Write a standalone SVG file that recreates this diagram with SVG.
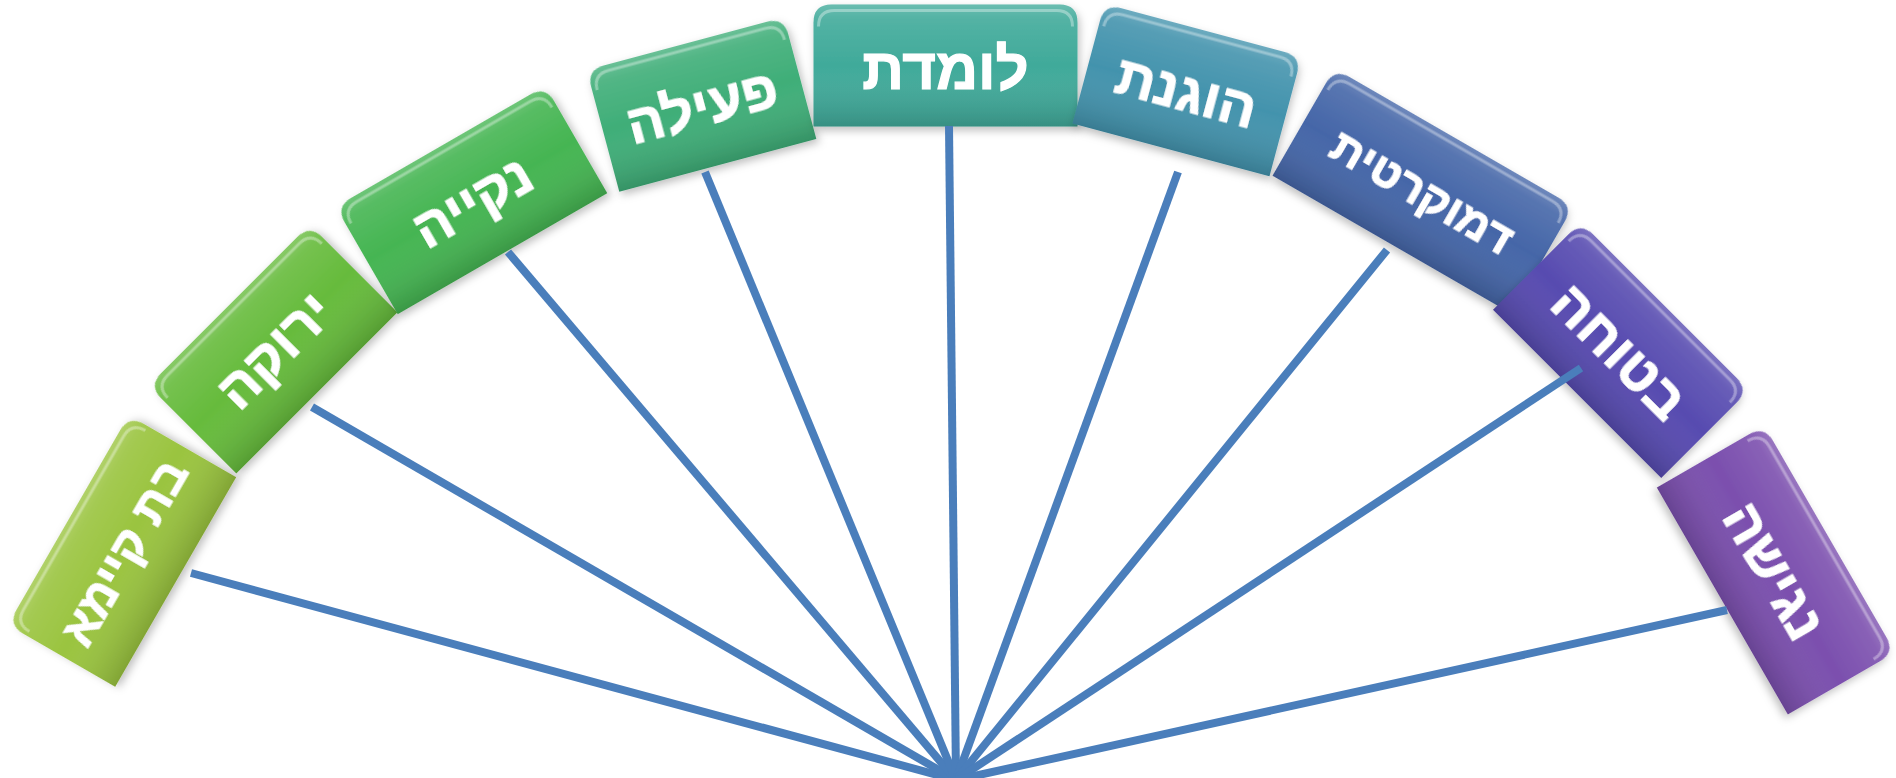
<svg xmlns="http://www.w3.org/2000/svg" width="1896" height="778" viewBox="0 0 1896 778">
<defs>
<linearGradient id="shade" x1="0" y1="0" x2="0" y2="1">
<stop offset="0" stop-color="#ffffff" stop-opacity="0.22"/>
<stop offset="0.12" stop-color="#ffffff" stop-opacity="0.10"/>
<stop offset="0.5" stop-color="#ffffff" stop-opacity="0"/>
<stop offset="1" stop-color="#000000" stop-opacity="0.16"/>
</linearGradient>
<filter id="sh" x="-20%" y="-20%" width="140%" height="140%">
<feDropShadow dx="2" dy="4" stdDeviation="4" flood-color="#000" flood-opacity="0.25"/>
</filter>
</defs>
<style>
.ov{fill:url(#shade)}
.hl{fill:none;stroke:#ffffff;stroke-opacity:0.35;stroke-width:3}
.t{font-family:"Liberation Sans","DejaVu Sans",Arial,sans-serif;font-weight:bold;fill:#ffffff;stroke:#ffffff;stroke-width:1.2;text-anchor:middle}
.ln{stroke:#4a7ebb;stroke-width:8;fill:none;stroke-linecap:butt}
</style>

<g id="node1" transform="translate(122,551) rotate(-60)" filter="url(#sh)">
<path fill="#9ac43f" d="M-121,62 L-121,-44 Q-121,-62 -103,-62 L103,-62 Q121,-62 121,-44 L121,62 Z"/>
<path class="ov" d="M-121,62 L-121,-44 Q-121,-62 -103,-62 L103,-62 Q121,-62 121,-44 L121,62 Z"/>
<path class="hl" d="M-116,-40 Q-116,-56 -100,-56 L100,-56 Q116,-56 116,-40"/>
<text class="t" x="0" y="19" font-size="48">בת קיימא</text>
</g>

<g id="node2" transform="translate(273,349) rotate(-45)" filter="url(#sh)">
<path fill="#66bb3c" d="M-114,62 L-114,-44 Q-114,-62 -96,-62 L96,-62 Q114,-62 114,-44 L114,62 Z"/>
<path class="ov" d="M-114,62 L-114,-44 Q-114,-62 -96,-62 L96,-62 Q114,-62 114,-44 L114,62 Z"/>
<path class="hl" d="M-109,-40 Q-109,-56 -93,-56 L93,-56 Q109,-56 109,-40"/>
<text class="t" x="0" y="21" font-size="55">ירוקה</text>
</g>

<g id="node3" transform="translate(471.5,200) rotate(-30)" filter="url(#sh)">
<path fill="#45b552" d="M-121,62 L-121,-44 Q-121,-62 -103,-62 L103,-62 Q121,-62 121,-44 L121,62 Z"/>
<path class="ov" d="M-121,62 L-121,-44 Q-121,-62 -103,-62 L103,-62 Q121,-62 121,-44 L121,62 Z"/>
<path class="hl" d="M-116,-40 Q-116,-56 -100,-56 L100,-56 Q116,-56 116,-40"/>
<text class="t" x="0" y="21" font-size="55">נקייה</text>
</g>

<g id="node4" transform="translate(701.5,104.5) rotate(-15)" filter="url(#sh)">
<path fill="#3fae78" d="M-102,63 L-102,-45 Q-102,-63 -84,-63 L84,-63 Q102,-63 102,-45 L102,63 Z"/>
<path class="ov" d="M-102,63 L-102,-45 Q-102,-63 -84,-63 L84,-63 Q102,-63 102,-45 L102,63 Z"/>
<path class="hl" d="M-97,-41 Q-97,-57 -81,-57 L81,-57 Q97,-57 97,-41"/>
<text class="t" x="0" y="21" font-size="55">פעילה</text>
</g>

<g id="node5" transform="translate(945.5,65.5)" filter="url(#sh)">
<path fill="#40aa9a" d="M-132,61 L-132,-43 Q-132,-61 -114,-61 L114,-61 Q132,-61 132,-43 L132,61 Z"/>
<path class="ov" d="M-132,61 L-132,-43 Q-132,-61 -114,-61 L114,-61 Q132,-61 132,-43 L132,61 Z"/>
<path class="hl" d="M-127,-39 Q-127,-55 -111,-55 L111,-55 Q127,-55 127,-39"/>
<text class="t" x="0" y="23" font-size="58">לומדת</text>
</g>

<g id="node6" transform="translate(1187,90) rotate(15)" filter="url(#sh)">
<path fill="#4393ad" d="M-102,62 L-102,-44 Q-102,-62 -84,-62 L84,-62 Q102,-62 102,-44 L102,62 Z"/>
<path class="ov" d="M-102,62 L-102,-44 Q-102,-62 -84,-62 L84,-62 Q102,-62 102,-44 L102,62 Z"/>
<path class="hl" d="M-97,-40 Q-97,-56 -81,-56 L81,-56 Q97,-56 97,-40"/>
<text class="t" x="0" y="21" font-size="55">הוגנת</text>
</g>

<g id="node7" transform="translate(1423,191) rotate(30)" filter="url(#sh)">
<path fill="#4566a8" d="M-138,62 L-138,-44 Q-138,-62 -120,-62 L120,-62 Q138,-62 138,-44 L138,62 Z"/>
<path class="ov" d="M-138,62 L-138,-44 Q-138,-62 -120,-62 L120,-62 Q138,-62 138,-44 L138,62 Z"/>
<path class="hl" d="M-133,-40 Q-133,-56 -117,-56 L117,-56 Q133,-56 133,-40"/>
<text class="t" x="0" y="17" font-size="45">דמוקרטית</text>
</g>

<g id="node8" transform="translate(1621,350) rotate(45)" filter="url(#sh)">
<path fill="#574bb0" d="M-119,62 L-119,-44 Q-119,-62 -101,-62 L101,-62 Q119,-62 119,-44 L119,62 Z"/>
<path class="ov" d="M-119,62 L-119,-44 Q-119,-62 -101,-62 L101,-62 Q119,-62 119,-44 L119,62 Z"/>
<path class="hl" d="M-114,-40 Q-114,-56 -98,-56 L98,-56 Q114,-56 114,-40"/>
<text class="t" x="0" y="21" font-size="55">בטוחה</text>
</g>

<g id="node9" transform="translate(1776,570) rotate(60)" filter="url(#sh)">
<path fill="#7b4fae" d="M-131,62 L-131,-44 Q-131,-62 -113,-62 L113,-62 Q131,-62 131,-44 L131,62 Z"/>
<path class="ov" d="M-131,62 L-131,-44 Q-131,-62 -113,-62 L113,-62 Q131,-62 131,-44 L131,62 Z"/>
<path class="hl" d="M-126,-40 Q-126,-56 -110,-56 L110,-56 Q126,-56 126,-40"/>
<text class="t" x="0" y="21" font-size="55">נגישה</text>
</g>

<g id="connectors">
<line class="ln" x1="191" y1="573" x2="956" y2="780"/>
<line class="ln" x1="312" y1="407" x2="956" y2="780"/>
<line class="ln" x1="508" y1="252" x2="956" y2="780"/>
<line class="ln" x1="705" y1="172" x2="956" y2="780"/>
<line class="ln" x1="949" y1="126" x2="956" y2="780"/>
<line class="ln" x1="1178" y1="172" x2="956" y2="780"/>
<line class="ln" x1="1387" y1="250" x2="956" y2="780"/>
<line class="ln" x1="1581" y1="368" x2="956" y2="780"/>
<line class="ln" x1="1727" y1="610" x2="956" y2="780"/>
</g>
</svg>
